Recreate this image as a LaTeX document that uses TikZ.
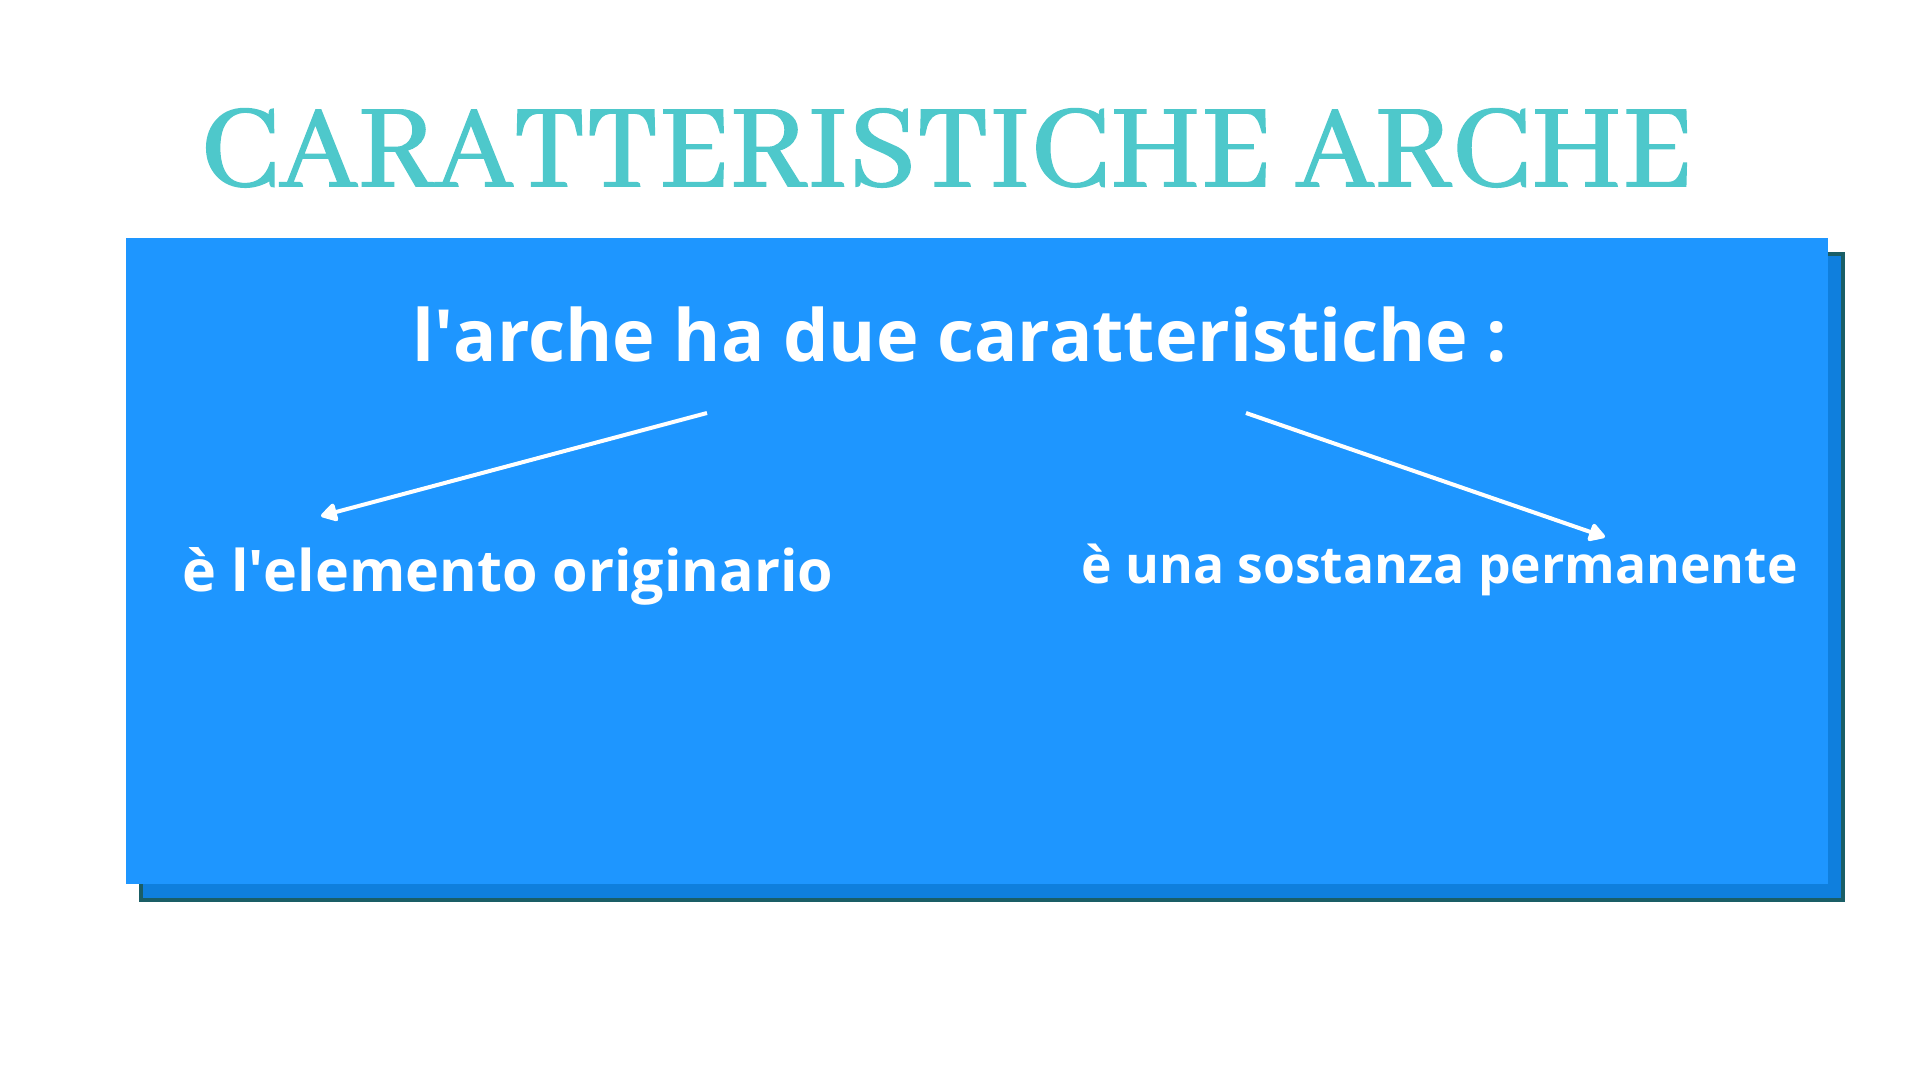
\documentclass[tikz,border=0pt]{standalone}
\usepackage{fontspec}
\setmainfont{Open Sans}
\newfontfamily\titlefont{Abhaya Libre}[FakeBold=1.2]
\usetikzlibrary{arrows.meta}
\definecolor{archeblue}{HTML}{1E96FF}
\definecolor{shadowblue}{HTML}{0F7FDD}
\definecolor{shadowline}{HTML}{1A5E66}
\definecolor{titleteal}{HTML}{4EC8CB}
\begin{document}
\begin{tikzpicture}[x=0.5pt,y=-0.5pt]
    \tikzstyle{every node}+=[inner sep=0pt]
    \tikzstyle{label}=[text=white,anchor=base west]
    \tikzstyle{pointer}=[white,line width=2pt,-{Triangle[length=9pt,width=10pt,round]}]
    \useasboundingbox (0,0) rectangle (1919,1080);
    \fill [white] (0,0) rectangle (1919,1080);
    \draw (200,186) node [anchor=base west,text=titleteal,font=\titlefont\fontsize{65}{70}\selectfont] (title) {CARATTERISTICHE ARCHE};
    \draw [shadowline,fill=shadowblue,line width=2pt] (141,254) rectangle (1843,900);
    \fill [archeblue] (126,238) rectangle (1828,884);
    \draw (412,362) node [label,font=\bfseries\fontsize{36}{40}\selectfont] (question) {l\textquotesingle arche ha due caratteristiche :};
    \draw (182,592) node [label,font=\bfseries\fontsize{28.7}{32}\selectfont] (origin) {è l\textquotesingle elemento originario};
    \draw (1081,584) node [label,font=\bfseries\fontsize{25.8}{28}\selectfont] (substance) {è una sostanza permanente};
    \coordinate (lstart) at (707,413);
    \coordinate (lend) at (321,516);
    \coordinate (rstart) at (1246,413);
    \coordinate (rend) at (1605,537);
    \draw [pointer] (lstart) -- (lend);
    \draw [pointer] (rstart) -- (rend);
\end{tikzpicture}
\end{document}
